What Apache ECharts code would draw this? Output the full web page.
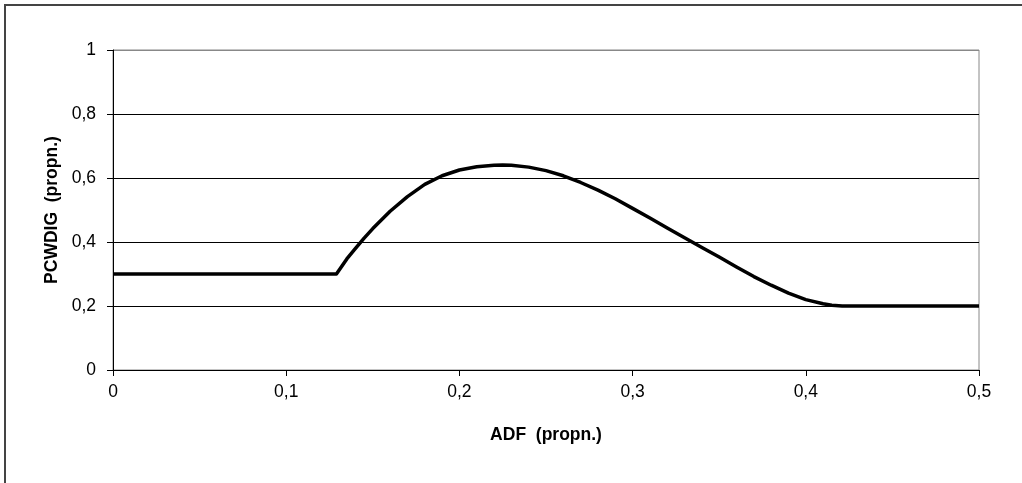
<!DOCTYPE html>
<html>
<head>
<meta charset="utf-8">
<script src="https://cdn.jsdelivr.net/npm/echarts@6/dist/echarts.min.js"></script>
<style>
html,body{margin:0;padding:0;background:#fff;}
#chart{width:1022px;height:483px;}
</style>
</head>
<body>
<div id="chart"></div>
<script>
var xTitle = 'ADF  (propn.)';
var yTitle = 'PCWDIG  (propn.)';
var adf = [0, 0.129, 0.135, 0.14, 0.145, 0.15, 0.16, 0.17, 0.18, 0.19, 0.20, 0.21, 0.22, 0.225, 0.23, 0.24, 0.25, 0.26, 0.27, 0.28, 0.29, 0.30, 0.31, 0.32, 0.33, 0.34, 0.35, 0.36, 0.37, 0.38, 0.39, 0.40, 0.41, 0.415, 0.421, 0.5];
var pcwdig = [0.30, 0.30, 0.347, 0.380, 0.412, 0.442, 0.496, 0.542, 0.580, 0.607, 0.625, 0.635, 0.640, 0.641, 0.640, 0.634, 0.623, 0.607, 0.586, 0.562, 0.535, 0.505, 0.475, 0.444, 0.413, 0.383, 0.353, 0.322, 0.292, 0.265, 0.240, 0.220, 0.207, 0.2025, 0.200, 0.200];

var points = adf.map(function (x, i) { return [x, pcwdig[i]]; });
var fmt = function (v) { return String(Math.round(v * 100) / 100).replace('.', ','); };
var font = 'Liberation Sans, Arial, sans-serif';

var chart = echarts.init(document.getElementById('chart'), null, {renderer: 'canvas'});
chart.setOption({
  backgroundColor: '#fff',
  animation: false,
  graphic: [{
    type: 'rect',
    shape: {x: 5, y: 5, width: 1040, height: 500},
    style: {fill: 'none', stroke: '#444', lineWidth: 2},
    silent: true, z: 100
  }],
  grid: {
    left: 113, right: 43, top: 50, bottom: 113,
    show: true, borderColor: '#888', borderWidth: 1, backgroundColor: 'transparent'
  },
  xAxis: {
    type: 'value', min: 0, max: 0.5, interval: 0.1,
    name: xTitle, nameLocation: 'middle', nameGap: 56,
    nameTextStyle: {fontFamily: font, fontSize: 17.5, fontWeight: 'bold', color: '#000'},
    axisLine: {show: true, onZero: false, lineStyle: {color: '#000', width: 1}},
    axisTick: {show: true, inside: false, length: 6, lineStyle: {color: '#000'}},
    axisLabel: {formatter: fmt, margin: 13, fontFamily: font, fontSize: 17.5, color: '#000'},
    splitLine: {show: false}
  },
  yAxis: {
    type: 'value', min: 0, max: 1, interval: 0.2,
    name: yTitle, nameLocation: 'middle', nameGap: 52, nameRotate: 90,
    nameTextStyle: {fontFamily: font, fontSize: 17.5, fontWeight: 'bold', color: '#000'},
    axisLine: {show: true, onZero: false, lineStyle: {color: '#000', width: 1}},
    axisTick: {show: true, inside: false, length: 6, lineStyle: {color: '#000'}},
    axisLabel: {formatter: fmt, margin: 17, fontFamily: font, fontSize: 17.5, color: '#000'},
    splitLine: {show: true, lineStyle: {color: ['#000', '#000', '#000', '#000', '#000', '#888'], width: 1}}
  },
  series: [{
    type: 'line',
    data: points,
    showSymbol: false,
    smooth: false,
    lineStyle: {color: '#000', width: 3.5, join: 'round'},
    z: 5
  }]
});
</script>
</body>
</html>
